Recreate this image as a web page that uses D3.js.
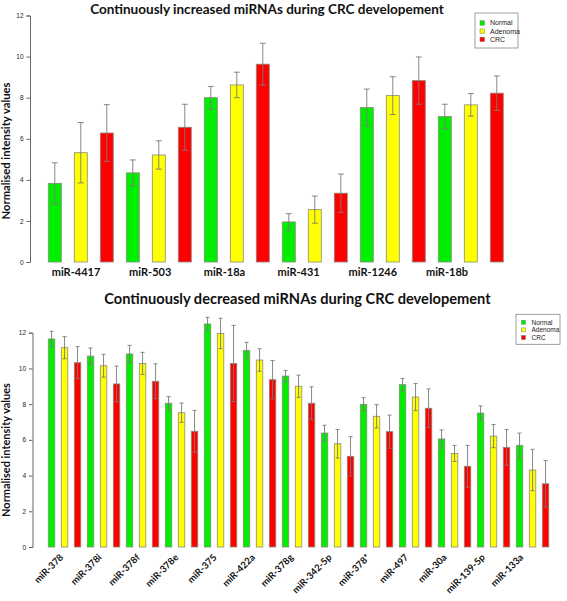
<!DOCTYPE html>
<html><head><meta charset="utf-8">
<script src="https://cdn.jsdelivr.net/npm/d3@7"></script>
<style>body{margin:0;background:#fff}svg{display:block}</style>
</head><body>
<svg id="c" width="567" height="601"></svg>
<script>
// ---------- DATA ----------
const groups = ["Normal", "Adenoma", "CRC"];

const topTitle = "Continuously increased miRNAs during CRC developement";
const topMirnas = ["miR-4417", "miR-503", "miR-18a", "miR-431", "miR-1246", "miR-18b"];
const topNormal = [3.83, 4.34, 8.00, 1.95, 7.52, 7.08];
const topAdenoma = [5.32, 5.21, 8.62, 2.55, 8.10, 7.65];
const topCRC = [6.28, 6.56, 9.63, 3.35, 8.83, 8.22];
const topNormalErr = [1.00, 0.63, 0.55, 0.40, 0.90, 0.60];
const topAdenomaErr = [1.47, 0.69, 0.62, 0.66, 0.92, 0.55];
const topCRCErr = [1.38, 1.12, 1.02, 0.93, 1.15, 0.84];

const botTitle = "Continuously decreased miRNAs during CRC developement";
const botMirnas = ["miR-378", "miR-378i", "miR-378f", "miR-378e", "miR-375", "miR-422a", "miR-378g",
  "miR-342-5p", "miR-378*", "miR-497", "miR-30a", "miR-139-5p", "miR-133a"];
const botNormal = [11.65, 10.69, 10.81, 8.05, 12.49, 11.01, 9.57, 6.38, 7.99, 9.09, 6.05, 7.50, 5.69];
const botAdenoma = [11.16, 10.15, 10.28, 7.52, 11.96, 10.47, 9.00, 5.78, 7.32, 8.40, 5.24, 6.21, 4.31];
const botCRC = [10.32, 9.13, 9.28, 6.48, 10.28, 9.37, 8.05, 5.08, 6.46, 7.77, 4.52, 5.58, 3.54];
const botNormalErr = [0.43, 0.45, 0.48, 0.37, 0.37, 0.45, 0.32, 0.44, 0.37, 0.35, 0.51, 0.40, 0.69];
const botAdenomaErr = [0.62, 0.64, 0.62, 0.54, 0.85, 0.63, 0.62, 0.80, 0.65, 0.76, 0.45, 0.65, 1.16];
const botCRCErr = [0.90, 1.00, 0.98, 1.17, 2.13, 1.07, 0.92, 1.10, 0.93, 1.08, 1.17, 1.00, 1.30];

const yTicks = [0, 2, 4, 6, 8, 10, 12];
const yTitle = "Normalised intensity values";

// ---------- STYLE ----------
const colors = {Normal: "#00ee00", Adenoma: "#ffff00", CRC: "#ff0000"};
const svg = d3.select("#c");

function fitText(sel, target) {
  const w = sel.node().getComputedTextLength();
  const fs = parseFloat(sel.attr("font-size"));
  sel.attr("font-size", fs * target / w);
}

function buildRows(mirnas, vals, errs) {
  const rows = [];
  mirnas.forEach((m, i) => {
    groups.forEach((g, j) => rows.push({mir: m, group: g, key: m + "|" + g, v: vals[j][i], e: errs[j][i]}));
  });
  return rows;
}

function panel(cfg) {
  const rows = buildRows(cfg.mirnas, cfg.vals, cfg.errs);
  const g = svg.append("g");
  const x = d3.scaleBand().domain(rows.map(r => r.key)).range(cfg.xRange).paddingInner(0.5).paddingOuter(0.25);
  const y = d3.scaleLinear().domain([0, 12]).range(cfg.yRange);

  // title
  const t = g.append("text").attr("x", cfg.titleX).attr("y", cfg.titleY).attr("text-anchor", "middle")
    .attr("font-family", "Lato").attr("font-weight", "bold").attr("font-size", 14).attr("fill", "#111")
    .text(cfg.title);
  fitText(t, cfg.titleW);

  // y axis
  const ax = g.append("g").attr("transform", `translate(${cfg.axisX},0)`)
    .call(d3.axisLeft(y).tickValues(yTicks).tickSizeOuter(0).tickSize(3.5).tickPadding(3));
  ax.select(".domain").attr("stroke", "#666");
  ax.selectAll(".tick line").attr("stroke", "#666");
  ax.selectAll(".tick text").attr("font-family", "Liberation Sans").attr("font-size", 6.5).attr("fill", "#222");

  // y title
  const yt = g.append("text").attr("transform", `translate(${cfg.yTitleX},${cfg.yTitleY}) rotate(-90)`)
    .attr("text-anchor", "middle").attr("font-family", "Lato").attr("font-weight", "bold")
    .attr("font-size", 10).attr("fill", "#111").text(yTitle);
  fitText(yt, cfg.yTitleW);

  // bars
  g.selectAll("rect.bar").data(rows).join("rect").attr("class", "bar")
    .attr("x", d => x(d.key)).attr("width", x.bandwidth())
    .attr("y", d => y(d.v)).attr("height", d => y(0) - y(d.v))
    .attr("fill", d => colors[d.group]).attr("stroke", "#8a8a7a").attr("stroke-width", 0.8);

  // error bars
  const eb = g.selectAll("g.err").data(rows).join("g").attr("class", "err")
    .attr("stroke", "#7a7a7a").attr("stroke-width", 0.9);
  const cx = d => x(d.key) + x.bandwidth() / 2;
  eb.append("line").attr("x1", cx).attr("x2", cx).attr("y1", d => y(d.v + d.e)).attr("y2", d => y(d.v - d.e));
  eb.append("line").attr("x1", d => cx(d) - cfg.cap).attr("x2", d => cx(d) + cfg.cap)
    .attr("y1", d => y(d.v + d.e)).attr("y2", d => y(d.v + d.e));
  eb.append("line").attr("x1", d => cx(d) - cfg.cap).attr("x2", d => cx(d) + cfg.cap)
    .attr("y1", d => y(d.v - d.e)).attr("y2", d => y(d.v - d.e));

  // x labels
  const lx = d3.scalePoint().domain(cfg.mirnas).range(cfg.labelRange);
  const lab = g.selectAll("text.xl").data(cfg.mirnas).join("text").attr("class", "xl")
    .attr("font-family", "Lato").attr("font-weight", "bold").attr("font-size", cfg.labelSize)
    .attr("fill", "#111").text(d => d);
  if (cfg.rotate) {
    lab.attr("text-anchor", "end").attr("transform", d => `translate(${lx(d)},${cfg.labelY}) rotate(-45)`);
  } else {
    lab.attr("text-anchor", "middle").attr("x", d => lx(d)).attr("y", cfg.labelY);
  }

  // legend
  const L = cfg.legend;
  const lg = g.append("g");
  lg.append("rect").attr("x", L.x).attr("y", L.y).attr("width", L.w).attr("height", L.h)
    .attr("fill", "#fff").attr("stroke", "#888").attr("stroke-width", 0.8);
  groups.forEach((gr, i) => {
    const cy = L.y + L.first + i * L.step;
    lg.append("rect").attr("x", L.x + L.sq0).attr("y", cy - L.sq / 2).attr("width", L.sq).attr("height", L.sq)
      .attr("fill", colors[gr]).attr("stroke", "#777").attr("stroke-width", 0.5);
    lg.append("text").attr("x", L.x + L.tx).attr("y", cy).attr("dy", "0.35em")
      .attr("font-family", "Liberation Sans").attr("font-size", L.fs).attr("fill", "#222").text(gr);
  });
}

panel({
  title: topTitle, titleX: 267, titleY: 13.5, titleW: 354,
  mirnas: topMirnas, vals: [topNormal, topAdenoma, topCRC], errs: [topNormalErr, topAdenomaErr, topCRCErr],
  xRange: [41.8, 509.8], yRange: [262, 15.5], axisX: 30,
  yTitleX: 10, yTitleY: 151, yTitleW: 137, cap: 3,
  labelRange: [76, 447], labelY: 276, labelSize: 11, rotate: false,
  legend: {x: 475, y: 13, w: 43, h: 35, first: 10, step: 8.2, sq0: 5, sq: 4.5, tx: 15, fs: 7}
});

panel({
  title: botTitle, titleX: 297.5, titleY: 303.5, titleW: 387,
  mirnas: botMirnas, vals: [botNormal, botAdenoma, botCRC], errs: [botNormalErr, botAdenomaErr, botCRCErr],
  xRange: [45.05, 552.05], yRange: [547, 332.7], axisX: 32.5,
  yTitleX: 10, yTitleY: 450, yTitleW: 134, cap: 2,
  labelRange: [64, 524], labelY: 558, labelSize: 9.5, rotate: true,
  legend: {x: 516, y: 314.3, w: 44, h: 30, first: 8, step: 7.6, sq0: 5.5, sq: 4, tx: 15.5, fs: 6.5}
});
</script>
</body></html>
